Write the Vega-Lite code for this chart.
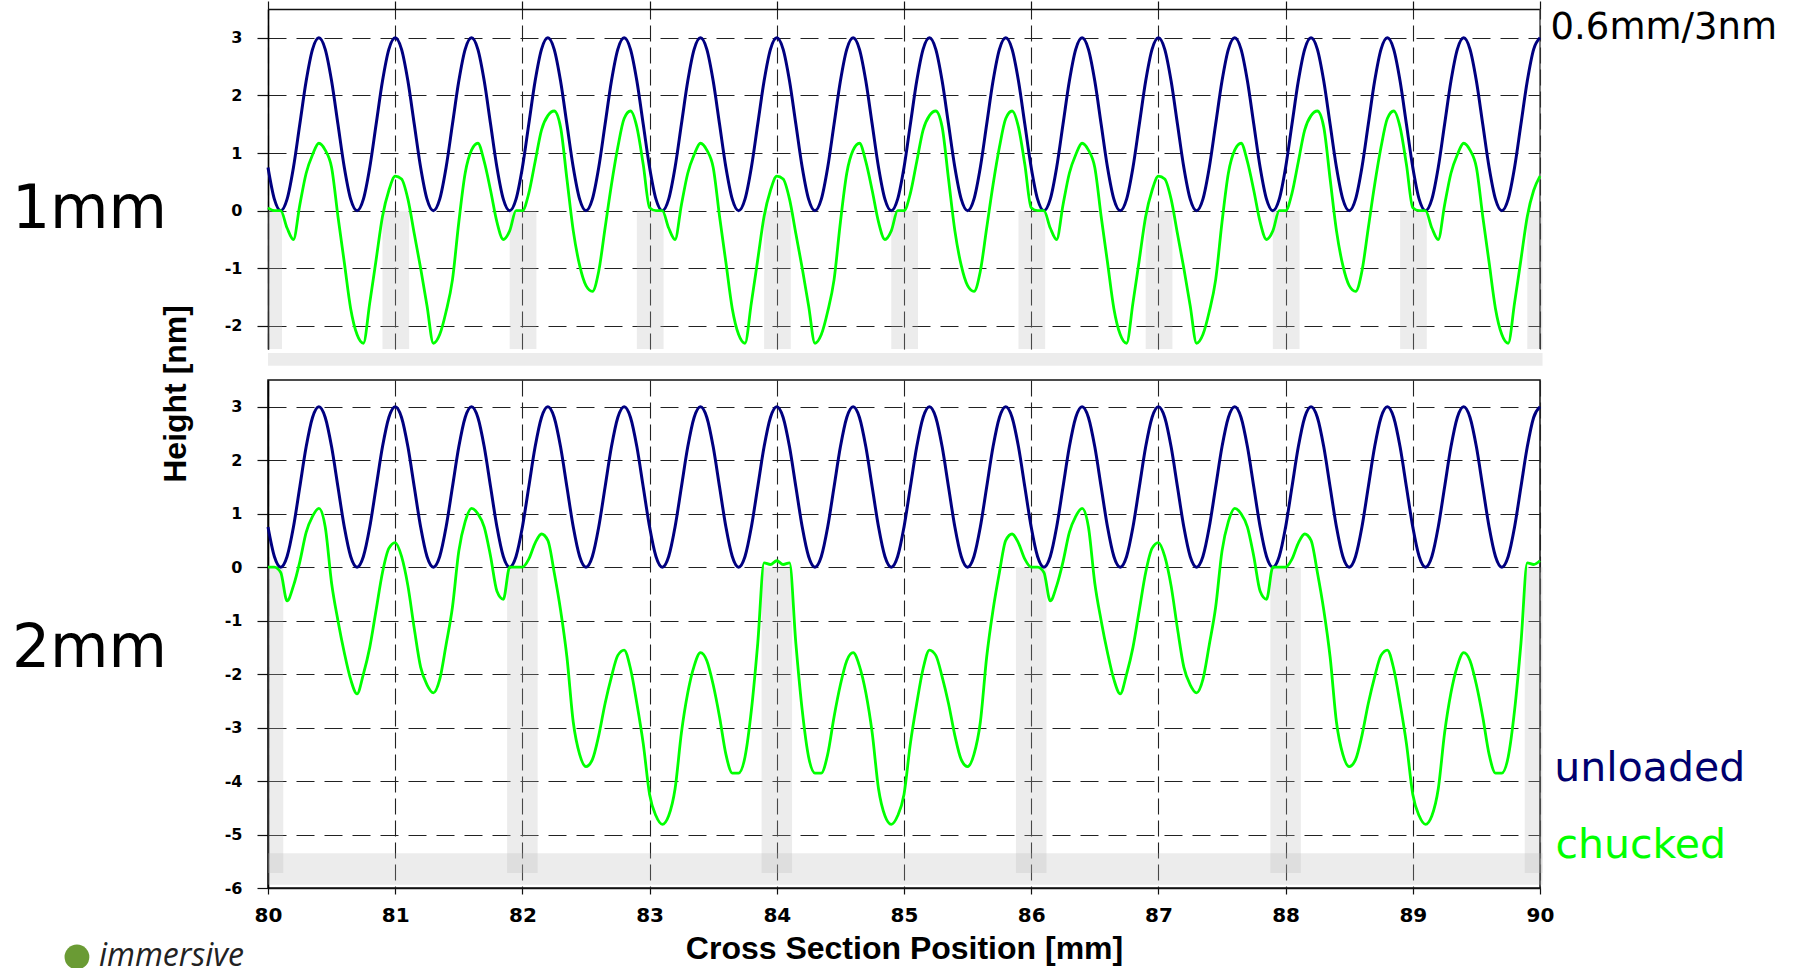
{
"$schema":"https://vega.github.io/schema/vega-lite/v6.json",
"padding":{"left":11,"top":0,"right":0,"bottom":0},
"background":"white",
"config":{"view":{"stroke":null},"font":"DejaVu Sans"},
"datasets":{
"curve":[
{"x":80,"u":0.75,"a":0.05,"b":0},{"x":80.05,"u":0.2,"a":0,"b":0},{"x":80.1,"u":0,"a":0,"b":-0.1},{"x":80.15,"u":0.2,"a":-0.3,"b":-0.63},{"x":80.2,"u":0.75,"a":-0.5,"b":-0.35},{"x":80.25,"u":1.5,"a":0.1,"b":0.1},{"x":80.3,"u":2.25,"a":0.65,"b":0.65},{"x":80.35,"u":2.8,"a":0.97,"b":0.95},{"x":80.4,"u":3,"a":1.17,"b":1.1},{"x":80.45,"u":2.8,"a":1.05,"b":0.75},{"x":80.5,"u":2.25,"a":0.75,"b":-0.3},{"x":80.55,"u":1.5,"a":-0.1,"b":-1.0},{"x":80.6,"u":0.75,"a":-0.9,"b":-1.6},{"x":80.65,"u":0.2,"a":-1.7,"b":-2.1},{"x":80.7,"u":0,"a":-2.15,"b":-2.37},{"x":80.75,"u":0.2,"a":-2.3,"b":-2.0},{"x":80.8,"u":0.75,"a":-1.6,"b":-1.5},{"x":80.85,"u":1.5,"a":-0.85,"b":-0.8},{"x":80.9,"u":2.25,"a":-0.1,"b":-0.1},{"x":80.95,"u":2.8,"a":0.35,"b":0.35},
{"x":81,"u":3,"a":0.6,"b":0.46},{"x":81.05,"u":2.8,"a":0.55,"b":0.2},{"x":81.1,"u":2.25,"a":0.2,"b":-0.35},{"x":81.15,"u":1.5,"a":-0.4,"b":-1.15},{"x":81.2,"u":0.75,"a":-1.0,"b":-1.87},{"x":81.25,"u":0.2,"a":-1.65,"b":-2.2},{"x":81.3,"u":0,"a":-2.3,"b":-2.35},{"x":81.35,"u":0.2,"a":-2.15,"b":-2.1},{"x":81.4,"u":0.75,"a":-1.75,"b":-1.45},{"x":81.45,"u":1.5,"a":-1.2,"b":-0.75},{"x":81.5,"u":2.25,"a":-0.2,"b":0.3},{"x":81.55,"u":2.8,"a":0.65,"b":0.85},{"x":81.6,"u":3,"a":1.05,"b":1.1},{"x":81.65,"u":2.8,"a":1.17,"b":1.0},{"x":81.7,"u":2.25,"a":0.85,"b":0.75},{"x":81.75,"u":1.5,"a":0.35,"b":0.2},{"x":81.8,"u":0.75,"a":-0.2,"b":-0.45},{"x":81.85,"u":0.2,"a":-0.5,"b":-0.6},{"x":81.9,"u":0,"a":-0.35,"b":0},{"x":81.95,"u":0.2,"a":0,"b":0},
{"x":82,"u":0.75,"a":0,"b":0},{"x":82.05,"u":1.5,"a":0.3,"b":0.15},{"x":82.1,"u":2.25,"a":0.85,"b":0.45},{"x":82.15,"u":2.8,"a":1.4,"b":0.62},{"x":82.2,"u":3,"a":1.65,"b":0.5},{"x":82.25,"u":2.8,"a":1.73,"b":-0.1},{"x":82.3,"u":2.25,"a":1.45,"b":-0.8},{"x":82.35,"u":1.5,"a":0.55,"b":-1.68},{"x":82.4,"u":0.75,"a":-0.35,"b":-2.9},{"x":82.45,"u":0.2,"a":-0.95,"b":-3.5},{"x":82.5,"u":0,"a":-1.3,"b":-3.73},{"x":82.55,"u":0.2,"a":-1.4,"b":-3.6},{"x":82.6,"u":0.75,"a":-1.05,"b":-3.15},{"x":82.65,"u":1.5,"a":-0.3,"b":-2.55},{"x":82.7,"u":2.25,"a":0.45,"b":-2.05},{"x":82.75,"u":2.8,"a":1.1,"b":-1.65},{"x":82.8,"u":3,"a":1.6,"b":-1.55},{"x":82.85,"u":2.8,"a":1.73,"b":-1.9},{"x":82.9,"u":2.25,"a":1.45,"b":-2.55},{"x":82.95,"u":1.5,"a":0.8,"b":-3.3},
{"x":83,"u":0.75,"a":0.05,"b":-4.25},{"x":83.05,"u":0.2,"a":0,"b":-4.65},{"x":83.1,"u":0,"a":0,"b":-4.81},{"x":83.15,"u":0.2,"a":-0.3,"b":-4.65},{"x":83.2,"u":0.75,"a":-0.5,"b":-4.15},{"x":83.25,"u":1.5,"a":0.1,"b":-3.1},{"x":83.3,"u":2.25,"a":0.65,"b":-2.35},{"x":83.35,"u":2.8,"a":0.97,"b":-1.85},{"x":83.4,"u":3,"a":1.17,"b":-1.6},{"x":83.45,"u":2.8,"a":1.05,"b":-1.75},{"x":83.5,"u":2.25,"a":0.75,"b":-2.2},{"x":83.55,"u":1.5,"a":-0.1,"b":-2.8},{"x":83.6,"u":0.75,"a":-0.9,"b":-3.5},{"x":83.65,"u":0.2,"a":-1.7,"b":-3.85},{"x":83.7,"u":0,"a":-2.15,"b":-3.85},{"x":83.75,"u":0.2,"a":-2.3,"b":-3.55},{"x":83.8,"u":0.75,"a":-1.6,"b":-2.68},{"x":83.85,"u":1.5,"a":-0.85,"b":-1.43},{"x":83.9,"u":2.25,"a":-0.1,"b":0.08},{"x":83.95,"u":2.8,"a":0.35,"b":0.05},
{"x":84,"u":3,"a":0.6,"b":0.12},{"x":84.05,"u":2.8,"a":0.55,"b":0.05},{"x":84.1,"u":2.25,"a":0.2,"b":0.08},{"x":84.15,"u":1.5,"a":-0.4,"b":-1.43},{"x":84.2,"u":0.75,"a":-1.0,"b":-2.68},{"x":84.25,"u":0.2,"a":-1.65,"b":-3.55},{"x":84.3,"u":0,"a":-2.3,"b":-3.85},{"x":84.35,"u":0.2,"a":-2.15,"b":-3.85},{"x":84.4,"u":0.75,"a":-1.75,"b":-3.5},{"x":84.45,"u":1.5,"a":-1.2,"b":-2.8},{"x":84.5,"u":2.25,"a":-0.2,"b":-2.2},{"x":84.55,"u":2.8,"a":0.65,"b":-1.75},{"x":84.6,"u":3,"a":1.05,"b":-1.6},{"x":84.65,"u":2.8,"a":1.17,"b":-1.85},{"x":84.7,"u":2.25,"a":0.85,"b":-2.35},{"x":84.75,"u":1.5,"a":0.35,"b":-3.1},{"x":84.8,"u":0.75,"a":-0.2,"b":-4.15},{"x":84.85,"u":0.2,"a":-0.5,"b":-4.65},{"x":84.9,"u":0,"a":-0.35,"b":-4.81},{"x":84.95,"u":0.2,"a":0,"b":-4.65},
{"x":85,"u":0.75,"a":0,"b":-4.25},{"x":85.05,"u":1.5,"a":0.3,"b":-3.3},{"x":85.1,"u":2.25,"a":0.85,"b":-2.55},{"x":85.15,"u":2.8,"a":1.4,"b":-1.9},{"x":85.2,"u":3,"a":1.65,"b":-1.55},{"x":85.25,"u":2.8,"a":1.73,"b":-1.65},{"x":85.3,"u":2.25,"a":1.45,"b":-2.05},{"x":85.35,"u":1.5,"a":0.55,"b":-2.55},{"x":85.4,"u":0.75,"a":-0.35,"b":-3.15},{"x":85.45,"u":0.2,"a":-0.95,"b":-3.6},{"x":85.5,"u":0,"a":-1.3,"b":-3.73},{"x":85.55,"u":0.2,"a":-1.4,"b":-3.5},{"x":85.6,"u":0.75,"a":-1.05,"b":-2.9},{"x":85.65,"u":1.5,"a":-0.3,"b":-1.68},{"x":85.7,"u":2.25,"a":0.45,"b":-0.8},{"x":85.75,"u":2.8,"a":1.1,"b":-0.1},{"x":85.8,"u":3,"a":1.6,"b":0.5},{"x":85.85,"u":2.8,"a":1.73,"b":0.62},{"x":85.9,"u":2.25,"a":1.45,"b":0.45},{"x":85.95,"u":1.5,"a":0.8,"b":0.15},
{"x":86,"u":0.75,"a":0.05,"b":0},{"x":86.05,"u":0.2,"a":0,"b":0},{"x":86.1,"u":0,"a":0,"b":-0.1},{"x":86.15,"u":0.2,"a":-0.3,"b":-0.63},{"x":86.2,"u":0.75,"a":-0.5,"b":-0.35},{"x":86.25,"u":1.5,"a":0.1,"b":0.1},{"x":86.3,"u":2.25,"a":0.65,"b":0.65},{"x":86.35,"u":2.8,"a":0.97,"b":0.95},{"x":86.4,"u":3,"a":1.17,"b":1.1},{"x":86.45,"u":2.8,"a":1.05,"b":0.75},{"x":86.5,"u":2.25,"a":0.75,"b":-0.3},{"x":86.55,"u":1.5,"a":-0.1,"b":-1.0},{"x":86.6,"u":0.75,"a":-0.9,"b":-1.6},{"x":86.65,"u":0.2,"a":-1.7,"b":-2.1},{"x":86.7,"u":0,"a":-2.15,"b":-2.37},{"x":86.75,"u":0.2,"a":-2.3,"b":-2.0},{"x":86.8,"u":0.75,"a":-1.6,"b":-1.5},{"x":86.85,"u":1.5,"a":-0.85,"b":-0.8},{"x":86.9,"u":2.25,"a":-0.1,"b":-0.1},{"x":86.95,"u":2.8,"a":0.35,"b":0.35},
{"x":87,"u":3,"a":0.6,"b":0.46},{"x":87.05,"u":2.8,"a":0.55,"b":0.2},{"x":87.1,"u":2.25,"a":0.2,"b":-0.35},{"x":87.15,"u":1.5,"a":-0.4,"b":-1.15},{"x":87.2,"u":0.75,"a":-1.0,"b":-1.87},{"x":87.25,"u":0.2,"a":-1.65,"b":-2.2},{"x":87.3,"u":0,"a":-2.3,"b":-2.35},{"x":87.35,"u":0.2,"a":-2.15,"b":-2.1},{"x":87.4,"u":0.75,"a":-1.75,"b":-1.45},{"x":87.45,"u":1.5,"a":-1.2,"b":-0.75},{"x":87.5,"u":2.25,"a":-0.2,"b":0.3},{"x":87.55,"u":2.8,"a":0.65,"b":0.85},{"x":87.6,"u":3,"a":1.05,"b":1.1},{"x":87.65,"u":2.8,"a":1.17,"b":1.0},{"x":87.7,"u":2.25,"a":0.85,"b":0.75},{"x":87.75,"u":1.5,"a":0.35,"b":0.2},{"x":87.8,"u":0.75,"a":-0.2,"b":-0.45},{"x":87.85,"u":0.2,"a":-0.5,"b":-0.6},{"x":87.9,"u":0,"a":-0.35,"b":0},{"x":87.95,"u":0.2,"a":0,"b":0},
{"x":88,"u":0.75,"a":0,"b":0},{"x":88.05,"u":1.5,"a":0.3,"b":0.15},{"x":88.1,"u":2.25,"a":0.85,"b":0.45},{"x":88.15,"u":2.8,"a":1.4,"b":0.62},{"x":88.2,"u":3,"a":1.65,"b":0.5},{"x":88.25,"u":2.8,"a":1.73,"b":-0.1},{"x":88.3,"u":2.25,"a":1.45,"b":-0.8},{"x":88.35,"u":1.5,"a":0.55,"b":-1.68},{"x":88.4,"u":0.75,"a":-0.35,"b":-2.9},{"x":88.45,"u":0.2,"a":-0.95,"b":-3.5},{"x":88.5,"u":0,"a":-1.3,"b":-3.73},{"x":88.55,"u":0.2,"a":-1.4,"b":-3.6},{"x":88.6,"u":0.75,"a":-1.05,"b":-3.15},{"x":88.65,"u":1.5,"a":-0.3,"b":-2.55},{"x":88.7,"u":2.25,"a":0.45,"b":-2.05},{"x":88.75,"u":2.8,"a":1.1,"b":-1.65},{"x":88.8,"u":3,"a":1.6,"b":-1.55},{"x":88.85,"u":2.8,"a":1.73,"b":-1.9},{"x":88.9,"u":2.25,"a":1.45,"b":-2.55},{"x":88.95,"u":1.5,"a":0.8,"b":-3.3},
{"x":89,"u":0.75,"a":0.05,"b":-4.25},{"x":89.05,"u":0.2,"a":0,"b":-4.65},{"x":89.1,"u":0,"a":0,"b":-4.81},{"x":89.15,"u":0.2,"a":-0.3,"b":-4.65},{"x":89.2,"u":0.75,"a":-0.5,"b":-4.15},{"x":89.25,"u":1.5,"a":0.1,"b":-3.1},{"x":89.3,"u":2.25,"a":0.65,"b":-2.35},{"x":89.35,"u":2.8,"a":0.97,"b":-1.85},{"x":89.4,"u":3,"a":1.17,"b":-1.6},{"x":89.45,"u":2.8,"a":1.05,"b":-1.75},{"x":89.5,"u":2.25,"a":0.75,"b":-2.2},{"x":89.55,"u":1.5,"a":-0.1,"b":-2.8},{"x":89.6,"u":0.75,"a":-0.9,"b":-3.5},{"x":89.65,"u":0.2,"a":-1.7,"b":-3.85},{"x":89.7,"u":0,"a":-2.15,"b":-3.85},{"x":89.75,"u":0.2,"a":-2.3,"b":-3.55},{"x":89.8,"u":0.75,"a":-1.6,"b":-2.68},{"x":89.85,"u":1.5,"a":-0.85,"b":-1.43},{"x":89.9,"u":2.25,"a":-0.1,"b":0.08},{"x":89.95,"u":2.8,"a":0.35,"b":0.05},
{"x":90,"u":3,"a":0.6,"b":0.12}
],
"pins1":[
{"x":80,"x2":80.11,"y":0,"y2":-2.4},{"x":80.9,"x2":81.11,"y":0,"y2":-2.4},{"x":81.9,"x2":82.11,"y":0,"y2":-2.4},{"x":82.9,"x2":83.11,"y":0,"y2":-2.4},{"x":83.9,"x2":84.11,"y":0,"y2":-2.4},{"x":84.9,"x2":85.11,"y":0,"y2":-2.4},{"x":85.9,"x2":86.11,"y":0,"y2":-2.4},{"x":86.9,"x2":87.11,"y":0,"y2":-2.4},{"x":87.9,"x2":88.11,"y":0,"y2":-2.4},{"x":88.9,"x2":89.11,"y":0,"y2":-2.4},{"x":89.9,"x2":90.02,"y":0,"y2":-2.4},
{"x":80,"x2":90.02,"y":-2.47,"y2":-2.69}
],
"pins2":[
{"x":80,"x2":80.12,"y":0,"y2":-5.72},{"x":81.88,"x2":82.12,"y":0,"y2":-5.72},{"x":83.88,"x2":84.12,"y":0,"y2":-5.72},{"x":85.88,"x2":86.12,"y":0,"y2":-5.72},{"x":87.88,"x2":88.12,"y":0,"y2":-5.72},{"x":89.88,"x2":90.02,"y":0,"y2":-5.72},
{"x":80,"x2":90.02,"y":-5.35,"y2":-5.94}
]
},
"vconcat":[
{
"width":1272,"height":340,
"encoding":{
 "x":{"field":"x","type":"quantitative","scale":{"domain":[80,90],"nice":false,"zero":false},
  "axis":{"orient":"top","values":[80,81,82,83,84,85,86,87,88,89,90],"labels":false,"title":null,"tickSize":8,"tickColor":"#111","tickWidth":1.2,"domainColor":"#111","domainWidth":1.5,"grid":true,"gridColor":"#222","gridDash":[16,6],"gridWidth":1.1,"gridOpacity":1}},
 "y":{"field":"y","type":"quantitative","scale":{"domain":[-2.4,3.5],"nice":false,"zero":false},
  "axis":{"values":[-2,-1,0,1,2,3],"title":null,"labelExpr":"toString(datum.value)","labelFont":"DejaVu Sans","labelFontWeight":"bold","labelFontSize":16,"labelColor":"#000","labelPadding":15,"tickSize":11,"tickColor":"#111","tickWidth":1.2,"domainColor":"#000","domainWidth":1.6,"grid":true,"gridColor":"#222","gridDash":[18,10],"gridWidth":1.1,"gridOpacity":1}}
},
"layer":[
{"data":{"name":"pins1"},"mark":{"type":"rect","fill":"#b5b5b5","opacity":0.26,"strokeWidth":0},
 "encoding":{"x2":{"field":"x2"},"y2":{"field":"y2"}}},
{"data":{"values":[{"x":90,"y":3.5,"y2":-2.4}]},"mark":{"type":"rule","color":"#333","strokeWidth":1.3},"encoding":{"y2":{"field":"y2"}}},
{"data":{"name":"curve"},"transform":[{"fold":["u"],"as":["s","y"]}],"mark":{"type":"line","color":"#000080","strokeWidth":3,"interpolate":"monotone"},"encoding":{}},
{"data":{"name":"curve"},"transform":[{"fold":["a"],"as":["s","y"]}],"mark":{"type":"line","color":"#00ff00","strokeWidth":2.8,"interpolate":"monotone"},"encoding":{}},
{"data":{"values":[{"x":77.987,"y":-0.3,"t":"1mm"}]},"mark":{"type":"text","font":"DejaVu Sans","fontSize":60,"align":"left","baseline":"alphabetic","color":"#000"},
 "encoding":{"text":{"field":"t"}}},
{"data":{"values":[{"x":90.083,"y":2.974,"t":"0.6mm/3nm"}]},"mark":{"type":"text","font":"DejaVu Sans","fontSize":37,"align":"left","baseline":"alphabetic","color":"#000"},
 "encoding":{"text":{"field":"t"}}}
]
},
{
"width":1272,"height":508,
"view":{"stroke":"#111","strokeWidth":1.5},
"encoding":{
 "x":{"field":"x","type":"quantitative","scale":{"domain":[80,90],"nice":false,"zero":false},
  "axis":{"orient":"bottom","values":[80,81,82,83,84,85,86,87,88,89,90],"labelFlush":false,"title":"Cross Section Position [mm]","titleFont":"Liberation Sans","titleFontSize":32,"titleFontWeight":"bold","titleColor":"#000","titlePadding":8,"labelFont":"DejaVu Sans","labelFontWeight":"bold","labelFontSize":20,"labelColor":"#000","labelPadding":11,"tickSize":6,"tickColor":"#111","tickWidth":1.2,"domainColor":"#111","domainWidth":1.5,"grid":true,"gridColor":"#222","gridDash":[16,6],"gridWidth":1.1,"gridOpacity":1}},
 "y":{"field":"y","type":"quantitative","scale":{"domain":[-6,3.5],"nice":false,"zero":false},
  "axis":{"values":[-6,-5,-4,-3,-2,-1,0,1,2,3],"title":null,"labelExpr":"toString(datum.value)","labelFont":"DejaVu Sans","labelFontWeight":"bold","labelFontSize":16,"labelColor":"#000","labelPadding":15,"tickSize":11,"tickColor":"#111","tickWidth":1.2,"domainColor":"#000","domainWidth":1.6,"grid":true,"gridColor":"#222","gridDash":[18,10],"gridWidth":1.1,"gridOpacity":1}}
},
"layer":[
{"data":{"name":"pins2"},"mark":{"type":"rect","fill":"#b5b5b5","opacity":0.26,"strokeWidth":0},
 "encoding":{"x2":{"field":"x2"},"y2":{"field":"y2"}}},
{"data":{"name":"curve"},"transform":[{"fold":["u"],"as":["s","y"]}],"mark":{"type":"line","color":"#000080","strokeWidth":3,"interpolate":"monotone"},"encoding":{}},
{"data":{"name":"curve"},"transform":[{"fold":["b"],"as":["s","y"]}],"mark":{"type":"line","color":"#00ff00","strokeWidth":2.8,"interpolate":"monotone"},"encoding":{}},
{"data":{"values":[{"x":77.987,"y":-1.87,"t":"2mm"}]},"mark":{"type":"text","font":"DejaVu Sans","fontSize":60,"align":"left","baseline":"alphabetic","color":"#000"},
 "encoding":{"text":{"field":"t"}}},
{"data":{"values":[{"x":90.113,"y":-4.0,"t":"unloaded"}]},"mark":{"type":"text","font":"DejaVu Sans","fontSize":41,"align":"left","baseline":"alphabetic","color":"#00006e"},
 "encoding":{"text":{"field":"t"}}},
{"data":{"values":[{"x":90.121,"y":-5.44,"t":"chucked"}]},"mark":{"type":"text","font":"DejaVu Sans","fontSize":41,"align":"left","baseline":"alphabetic","color":"#00ff00"},
 "encoding":{"text":{"field":"t"}}},
{"data":{"values":[{"x":79.277,"y":3.24,"t":"Height [nm]"}]},"mark":{"type":"text","font":"Liberation Sans","fontSize":32,"fontWeight":"bold","angle":270,"align":"center","baseline":"middle","color":"#000"},
 "encoding":{"text":{"field":"t"}}},
{"data":{"values":[{"x":78.671,"y":-7.46,"t":"immersive"}]},"mark":{"type":"text","font":"Open Sans","fontSize":32,"fontStyle":"italic","align":"left","baseline":"alphabetic","color":"#222"},
 "encoding":{"text":{"field":"t"}}},
{"data":{"values":[{"x":78.498,"y":-7.29}]},"mark":{"type":"point","filled":true,"size":615,"color":"#6a9b34","opacity":1},"encoding":{}}
]
}
],
"spacing":31,
"bounds":"flush"
}
